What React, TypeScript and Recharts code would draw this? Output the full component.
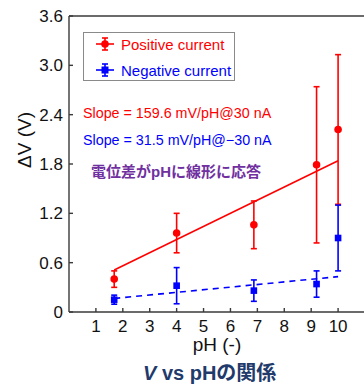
import { ComposedChart, ErrorBar, Scatter, XAxis, YAxis } from 'recharts';

const phValues = [1.68, 4.0, 6.87, 9.2, 10.0];
const posMean = [0.4, 0.96, 1.06, 1.79, 2.22];
const posErr = [0.1, 0.24, 0.29, 0.95, 0.91];
const negMean = [0.15, 0.32, 0.26, 0.34, 0.9];
const negErr = [0.055, 0.22, 0.13, 0.16, 0.4];

// linear fits (end points)
const fitX = [1.68, 10.0];
const posFitY = [0.51, 1.84];
const negFitY = [0.165, 0.43];

const xTicks = [1, 2, 3, 4, 5, 6, 7, 8, 9, 10];
const yTicks = [0, 0.6, 1.2, 1.8, 2.4, 3.0, 3.6];

const seriesNames = ['Positive current', 'Negative current'];
const slopeNotes = ['Slope = 159.6 mV/pH@30 nA', 'Slope = 31.5 mV/pH@\u221230 nA'];

const RED = '#ff0000';
const BLUE = '#0000ff';
const AXIS = '#3a3a3a';
const FONT = '"Liberation Sans", Arial, "Noto Sans CJK JP", sans-serif';

const posData = phValues.map((x, i) => ({ x, y: posMean[i], err: posErr[i] }));
const negData = phValues.map((x, i) => ({ x, y: negMean[i], err: negErr[i] }));
const posFit = fitX.map((x, i) => ({ x, y: posFitY[i] }));
const negFit = fitX.map((x, i) => ({ x, y: negFitY[i] }));

const Dot = (p: any) => <circle cx={p.cx} cy={p.cy} r={3.8} fill={RED} />;
const Square = (p: any) => <rect x={p.cx - 3.3} y={p.cy - 3.3} width={6.6} height={6.6} fill={BLUE} />;
const NoShape = () => <g />;

function LegendIcon({ color, square }: { color: string; square?: boolean }) {
  return (
    <svg width={20} height={16} style={{ display: 'block' }}>
      <line x1={1} y1={8} x2={19} y2={8} stroke={color} strokeWidth={1.6} />
      <line x1={10} y1={2} x2={10} y2={14} stroke={color} strokeWidth={1.6} />
      <line x1={7} y1={2} x2={13} y2={2} stroke={color} strokeWidth={1.6} />
      <line x1={7} y1={14} x2={13} y2={14} stroke={color} strokeWidth={1.6} />
      {square ? <rect x={6.5} y={4.5} width={7} height={7} fill={color} /> : <circle cx={10} cy={8} r={3.8} fill={color} />}
    </svg>
  );
}

const axisTick = { fontSize: 17, fill: '#111' };

export default function App() {
  return (
    <div style={{ position: 'absolute', left: 0, top: 0, width: 364, height: 385, overflow: 'hidden', background: '#fff', fontFamily: FONT, lineHeight: 1 }}>
      <ComposedChart width={370} height={385} margin={{ top: 10, right: 0, bottom: 0, left: 0 }}>
        <XAxis
          xAxisId="b"
          type="number"
          dataKey="x"
          domain={[0, 11]}
          ticks={xTicks}
          height={73}
          tickSize={-4}
          tickMargin={12}
          tick={axisTick}
          stroke={AXIS}
          strokeWidth={1.4}
          label={{ value: 'pH (-)', position: 'insideTop', offset: 26, fontSize: 19, fill: '#111' }}
        />
        <XAxis xAxisId="t" orientation="top" type="number" domain={[0, 11]} ticks={xTicks} height={6} tick={false} tickSize={-4} stroke={AXIS} strokeWidth={1.4} />
        <YAxis
          yAxisId="l"
          type="number"
          dataKey="y"
          domain={[0, 3.6]}
          ticks={yTicks}
          width={69}
          tickSize={-4}
          tickMargin={10}
          tick={axisTick}
          tickFormatter={(v: number) => (v === 0 ? '0' : v.toFixed(1))}
          stroke={AXIS}
          strokeWidth={1.4}
        />
        <YAxis yAxisId="r" orientation="right" type="number" domain={[0, 3.6]} ticks={yTicks} width={5} tick={false} tickSize={-4} stroke={AXIS} strokeWidth={1.4} />

        <Scatter xAxisId="b" yAxisId="l" data={posFit} line={{ stroke: RED, strokeWidth: 1.6 }} shape={NoShape} isAnimationActive={false} />
        <Scatter xAxisId="b" yAxisId="l" data={negFit} line={{ stroke: BLUE, strokeWidth: 1.6, strokeDasharray: '6 5' }} shape={NoShape} isAnimationActive={false} />

        <Scatter xAxisId="b" yAxisId="l" name={seriesNames[0]} data={posData} shape={Dot} isAnimationActive={false}>
          <ErrorBar dataKey="err" direction="y" width={3} stroke={RED} strokeWidth={1.6} isAnimationActive={false} />
        </Scatter>
        <Scatter xAxisId="b" yAxisId="l" name={seriesNames[1]} data={negData} shape={Square} isAnimationActive={false}>
          <ErrorBar dataKey="err" direction="y" width={3} stroke={BLUE} strokeWidth={1.6} isAnimationActive={false} />
        </Scatter>
      </ComposedChart>

      <div
        style={{
          position: 'absolute',
          left: 24,
          top: 140,
          transform: 'translate(-50%, -50%) rotate(-90deg)',
          fontSize: 19,
          color: '#111',
          whiteSpace: 'nowrap',
        }}
      >
        {'\u0394V (V)'}
      </div>

      <div
        style={{
          position: 'absolute',
          left: 83,
          top: 32,
          width: 152,
          height: 49,
          border: '1px solid #8a8a8a',
          background: '#fff',
          boxSizing: 'border-box',
          fontSize: 15,
        }}
      >
        {seriesNames.map((n, i) => (
          <div key={n} style={{ position: 'absolute', left: 11, top: i === 0 ? 2 : 28, display: 'flex', alignItems: 'center', gap: 6, height: 18, color: i === 0 ? RED : BLUE }}>
            <LegendIcon color={i === 0 ? RED : BLUE} square={i === 1} />
            <span style={{ whiteSpace: 'nowrap' }}>{n}</span>
          </div>
        ))}
      </div>

      {slopeNotes.map((s, i) => (
        <div key={s} style={{ position: 'absolute', left: 83, top: i === 0 ? 106 : 133, fontSize: 14.3, color: i === 0 ? RED : BLUE, whiteSpace: 'nowrap' }}>
          {s}
        </div>
      ))}

      <div style={{ position: 'absolute', left: 91, top: 164, fontSize: 15, fontWeight: 700, color: '#7030a0', whiteSpace: 'nowrap' }}>
        電位差がpHに線形に応答
      </div>

      <div style={{ position: 'absolute', left: 143, top: 363, fontSize: 20, fontWeight: 700, color: '#1f3a6b', whiteSpace: 'nowrap' }}>
        <i>V</i> vs pHの関係
      </div>
    </div>
  );
}
